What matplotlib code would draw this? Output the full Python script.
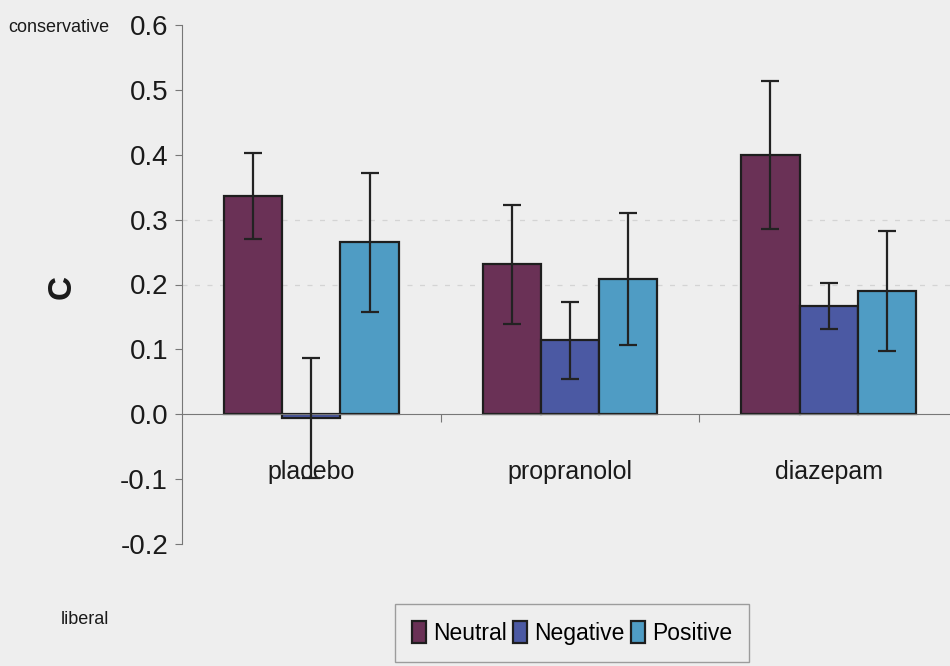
import numpy as np
import matplotlib
matplotlib.use('Agg')
import matplotlib.pyplot as plt

# data
drugs = ['placebo', 'propranolol', 'diazepam']
conditions = ['Neutral', 'Negative', 'Positive']
neutral = [0.336, 0.231, 0.400]
negative = [-0.006, 0.114, 0.167]
positive = [0.265, 0.208, 0.190]
neutral_err = [0.066, 0.092, 0.114]
negative_err = [0.093, 0.059, 0.035]
positive_err = [0.107, 0.102, 0.093]
yticks = [-0.2, -0.1, 0.0, 0.1, 0.2, 0.3, 0.4, 0.5, 0.6]

colors = ['#6a3156', '#4b59a3', '#4f9cc4']
bg = '#eeeeee'

plt.rcParams['font.family'] = ['Liberation Sans', 'DejaVu Sans']

fig = plt.figure(figsize=(9.5, 6.66), dpi=100, facecolor=bg)
ax = fig.add_axes([182 / 950, 1 - 544 / 666, 776 / 950, 519 / 666])
ax.set_facecolor(bg)

x = np.arange(len(drugs))
width = 0.225
series = [(neutral, neutral_err), (negative, negative_err), (positive, positive_err)]
for i, (vals, errs) in enumerate(series):
    ax.bar(x + (i - 1) * width, vals, width, color=colors[i], edgecolor='#1e1e1e',
           linewidth=1.6, label=conditions[i], zorder=2)
    ax.errorbar(x + (i - 1) * width, vals, yerr=errs, fmt='none', ecolor='#222222',
                elinewidth=1.6, capsize=6.5, capthick=1.6, zorder=3)

# faint dashed gridlines seen in the scan
for g in [0.2, 0.3]:
    ax.axhline(g, color='#d4d4d4', linestyle=(0, (4, 6)), linewidth=0.9, zorder=1)

ax.set_xlim(-0.5, 2.5)
ax.set_ylim(-0.2, 0.6)
ax.set_yticks(yticks)
ax.set_yticklabels(['%.1f' % t for t in yticks], fontsize=20)
ax.tick_params(axis='y', length=5, width=0.8, pad=5, colors='#777777', labelcolor='#1a1a1a')

ax.spines['top'].set_visible(False)
ax.spines['right'].set_visible(False)
ax.spines['left'].set_color('#777777')
ax.spines['bottom'].set_position(('data', 0))
ax.spines['bottom'].set_color('#777777')

ax.set_xticks([0.5, 1.5])
ax.set_xticklabels([])
ax.tick_params(axis='x', which='major', length=6, width=0.8, colors='#777777', direction='out')
ax.set_xticks(x, minor=True)
ax.set_xticklabels(drugs, minor=True, fontsize=18)
ax.tick_params(axis='x', which='minor', length=0, pad=33, labelcolor='#1a1a1a')

fig.text(62 / 950, 1 - 287 / 666, 'C', fontsize=24, fontweight='bold', rotation=90,
         ha='center', va='center', color='#1a1a1a')
fig.text(8 / 950, 1 - 27 / 666, 'conservative', fontsize=13, ha='left', va='center',
         color='#1a1a1a')
fig.text(61 / 950, 1 - 620 / 666, 'liberal', fontsize=13, ha='left', va='center',
         color='#1a1a1a')

leg = fig.legend(loc='center', bbox_to_anchor=(572 / 950, 1 - 633 / 666), ncol=3,
                 frameon=True, fancybox=False, edgecolor='#888888', facecolor=bg,
                 prop={'size': 16.5}, handlelength=0.6, handleheight=1.1,
                 handletextpad=0.3, columnspacing=0.3, borderpad=0.75, borderaxespad=0)
leg.get_frame().set_linewidth(1.0)

fig.savefig('out.png', dpi=100, facecolor=bg)
